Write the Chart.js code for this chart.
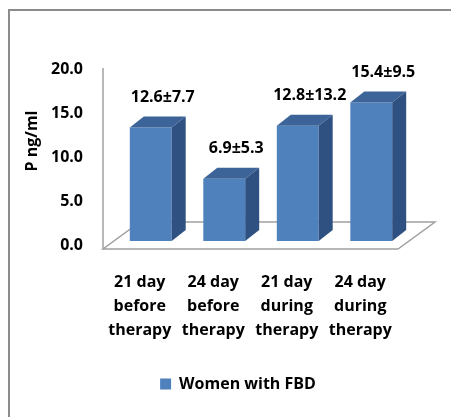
<!DOCTYPE html>
<html>
<head>
<meta charset="utf-8">
<script src="https://cdn.jsdelivr.net/npm/chart.js@4.4.1/dist/chart.umd.min.js"></script>
<style>
  html, body { margin: 0; padding: 0; overflow: hidden; background: #fff; }
  #frame { position: absolute; left: 8px; top: 9px; width: 600px; height: 600px;
           border-top: 2px solid #8c8c8c; border-left: 2px solid #8c8c8c; }
  #chart { position: absolute; left: 0; top: 0; }
</style>
</head>
<body>
<div id="frame"></div>
<canvas id="chart" width="476" height="417"></canvas>
<script>
const categories = [
    ['21 day', 'before', 'therapy'],
    ['24 day', 'before', 'therapy'],
    ['21 day', 'during', 'therapy'],
    ['24 day', 'during', 'therapy']
];
const means = [12.6, 6.9, 12.8, 15.4];
const sds = [7.7, 5.3, 13.2, 9.5];
const seriesName = 'Women with FBD';
const axisTitle = 'P ng/ml';
const yMax = 20;
const yStep = 5;

// fake 3d look: bars sit a bit behind the floor's front edge
const FONT = 'Open Sans';
const frontColor = '#4F81BD';
const topColor = '#3C6499';
const sideColor = '#2F5182';
const depth = { x: 14, y: -11 };
const floorDepth = { x: 37, y: -27 };

const bars3d = {
    id: 'bars3d',
    beforeDatasetsDraw(chart) {
        const { ctx, chartArea: ca } = chart;
        const yl = chart.scales.yl;
        const fl = ca.left - 11, fr = ca.right - 10, fb = ca.bottom;
        ctx.save();
        ctx.strokeStyle = '#a0a0a0';
        ctx.lineWidth = 1.5;
        ctx.beginPath();
        ctx.moveTo(fl, fb);
        ctx.lineTo(fr, fb);
        ctx.lineTo(fr + floorDepth.x, fb + floorDepth.y);
        ctx.lineTo(fl + floorDepth.x, fb + floorDepth.y);
        ctx.closePath();
        ctx.stroke();
        ctx.beginPath();
        ctx.moveTo(fl, yl.getPixelForValue(yMax) - 1);
        ctx.lineTo(fl, fb);
        ctx.stroke();
        ctx.restore();
    },
    afterDatasetsDraw(chart) {
        const ctx = chart.ctx;
        const meta = chart.getDatasetMeta(0);
        ctx.save();
        meta.data.forEach((bar, i) => {
            const l = bar.x - bar.width / 2, r = bar.x + bar.width / 2;
            const t = bar.y, b = bar.base;
            ctx.fillStyle = topColor;
            ctx.beginPath();
            ctx.moveTo(l, t);
            ctx.lineTo(r, t);
            ctx.lineTo(r + depth.x, t + depth.y);
            ctx.lineTo(l + depth.x, t + depth.y);
            ctx.closePath();
            ctx.fill();
            ctx.fillStyle = sideColor;
            ctx.beginPath();
            ctx.moveTo(r, t);
            ctx.lineTo(r + depth.x, t + depth.y);
            ctx.lineTo(r + depth.x, b + depth.y);
            ctx.lineTo(r, b);
            ctx.closePath();
            ctx.fill();

            ctx.fillStyle = '#000';
            ctx.font = 'bold 16px "' + FONT + '"';
            ctx.textAlign = 'center';
            ctx.textBaseline = 'middle';
            ctx.fillText(means[i].toFixed(1) + '\u00B1' + sds[i].toFixed(1), bar.x + 12, t - 30);
        });
        ctx.restore();
    },
    afterDraw(chart) {
        const ctx = chart.ctx;
        const ca = chart.chartArea;
        ctx.save();
        ctx.translate(32, (ca.top + ca.bottom) / 2 - 14);
        ctx.rotate(-Math.PI / 2);
        ctx.fillStyle = '#000';
        ctx.font = 'bold 16px "' + FONT + '"';
        ctx.textAlign = 'center';
        ctx.textBaseline = 'middle';
        ctx.fillText(axisTitle, 0, 0);
        ctx.restore();
    }
};

const tickFont = { family: FONT, size: 16, weight: 'bold' };

new Chart(document.getElementById('chart').getContext('2d'), {
    type: 'bar',
    data: {
        labels: categories,
        datasets: [{
            label: seriesName,
            data: means,
            backgroundColor: frontColor,
            borderWidth: 0,
            yAxisID: 'y',
            barPercentage: 0.57,
            categoryPercentage: 1
        }]
    },
    options: {
        responsive: false,
        animation: false,
        layout: { padding: { top: 61, bottom: 15, left: 0, right: 0 } },
        scales: {
            x: {
                grid: { display: false, drawTicks: false },
                border: { display: false },
                ticks: { font: { family: FONT, size: 16, weight: 'bold', lineHeight: 1.5 },
                         color: '#000', padding: 21, labelOffset: -11,
                         maxRotation: 0, autoSkip: false },
                afterFit(s) { s.height = 117; }
            },
            y: {
                position: 'right',
                min: -0.9,
                max: yMax,
                grid: { display: false, drawTicks: false },
                border: { display: false },
                ticks: { display: false },
                afterFit(s) { s.width = 68; }
            },
            yl: {
                position: 'left',
                min: -0.46,
                max: 20.92,
                grid: { display: false, drawTicks: false },
                border: { display: false },
                ticks: { stepSize: yStep, includeBounds: false, font: tickFont, color: '#000',
                         padding: 31, callback: v => v.toFixed(1) },
                afterFit(s) { s.width = 114; }
            }
        },
        plugins: {
            legend: {
                position: 'bottom',
                labels: { boxWidth: 11, boxHeight: 11, font: tickFont, color: '#000', padding: 10 }
            },
            tooltip: { enabled: false }
        }
    },
    plugins: [bars3d]
});
</script>
</body>
</html>
